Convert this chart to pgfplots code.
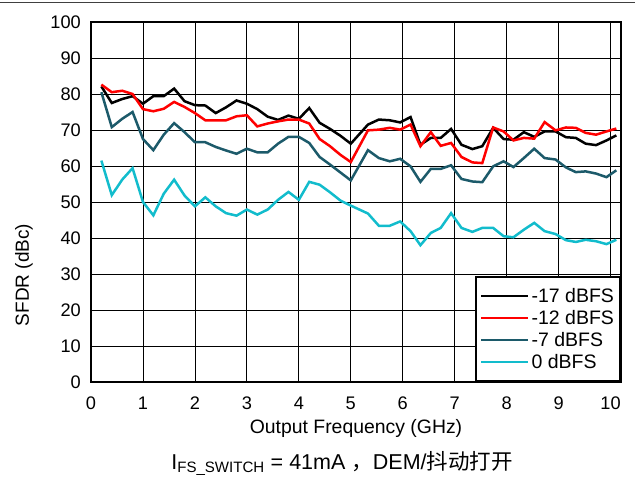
\documentclass[border=0pt]{standalone}
\usepackage{pgfplots}
\usepackage{pgfplotstable}
\pgfplotsset{compat=1.18}
\usepackage{fontspec}
\setmainfont{Liberation Sans}
\newfontfamily\cjk{Noto Sans CJK SC}
\definecolor{cblack}{RGB}{0,0,0}
\definecolor{cred}{RGB}{255,0,0}
\definecolor{cteal}{RGB}{28,90,106}
\definecolor{ccyan}{RGB}{18,188,204}
\pgfplotstableread{
x a b c d
0.2 82.1 82.6 80.5 61.5
0.4 77.5 80.5 70.8 51.9
0.6 78.6 80.9 73.1 56.2
0.8 79.4 80.0 75.0 59.4
1.0 77.3 75.8 67.5 50.0
1.2 79.4 75.2 64.4 46.3
1.4 79.4 75.9 68.7 52.3
1.6 81.5 77.8 71.9 56.2
1.8 78.0 76.4 69.4 51.8
2.0 76.9 74.7 66.6 48.8
2.2 76.8 72.7 66.6 51.3
2.4 74.7 72.7 65.3 48.8
2.6 76.3 72.7 64.3 46.9
2.8 78.2 73.8 63.4 46.2
3.0 77.3 74.1 64.8 47.9
3.2 75.8 71.0 63.8 46.5
3.4 73.7 71.8 63.8 47.9
3.6 72.8 72.4 66.2 50.6
3.8 74.0 72.9 68.1 52.8
4.0 73.1 72.9 68.1 50.6
4.2 76.1 71.8 66.4 55.6
4.4 72.0 67.5 62.5 54.8
4.6 70.3 65.5 60.4 52.7
4.8 68.4 63.1 58.2 50.4
5.0 66.2 61.1 56.0 49.0
5.33 71.5 69.9 64.4 46.8
5.54 72.9 70.1 62.2 43.4
5.75 72.7 70.6 61.3 43.4
5.95 72.1 70.1 62.0 44.6
6.15 73.6 71.5 59.9 41.9
6.34 65.9 65.5 55.6 38.0
6.54 67.8 69.4 59.2 41.4
6.73 67.8 65.6 59.2 42.8
6.93 70.3 66.4 60.2 46.9
7.13 65.9 62.5 56.4 42.8
7.34 64.7 61.0 55.7 41.7
7.53 65.5 60.8 55.5 42.8
7.74 70.6 70.7 59.9 42.8
7.94 67.5 69.6 61.3 40.5
8.13 67.3 67.1 59.7 40.2
8.33 69.4 67.8 62.2 42.3
8.53 68.1 67.6 64.8 44.2
8.73 69.6 72.2 62.2 41.9
8.94 69.6 69.9 61.8 41.1
9.14 68.0 70.7 59.6 39.4
9.33 67.8 70.6 58.3 38.9
9.52 66.2 69.2 58.5 39.5
9.72 65.8 68.7 57.9 39.1
9.92 67.1 69.6 56.9 38.3
10.11 68.5 70.4 58.8 39.5
}\datatable
\begin{document}
\begin{tikzpicture}
\useasboundingbox (0,0) rectangle (635pt,477pt);
\draw[line width=1pt, black!75] (0pt,474pt) -- (635pt,474pt);
\begin{axis}[
  at={(91pt,95pt)}, anchor=south west,
  scale only axis, width=530pt, height=360pt,
  xmin=0, xmax=10.2, ymin=0, ymax=100,
  xtick={0,1,...,10}, ytick={0,10,...,100},
  grid=major, major grid style={black, line width=0.8pt},
  axis line style={line width=2pt},
  major tick length=0pt,
  /pgf/number format/assume math mode=true,
  tick label style={font=\fontsize{18.2}{20}\selectfont, inner sep=0pt},
  xticklabel style={yshift=-15pt},
  yticklabel style={xshift=-10pt},
  legend style={at={(1,0)}, anchor=south east, draw=black, line width=2pt,
    font=\fontsize{19.5}{22}\selectfont, row sep=2.5pt, inner xsep=4pt, inner ysep=9pt},
  legend cell align=left,
  legend image code/.code={\draw[#1, line width=2.5pt] (0pt,0pt) -- (37pt,0pt); \path (-5pt,0pt) -- (42pt,0pt);},
]
\addplot[cblack, line width=2.5pt] table[x=x, y=a] {\datatable};
\addlegendentry{-17 dBFS}
\addplot[cred, line width=2.5pt] table[x=x, y=b] {\datatable};
\addlegendentry{-12 dBFS}
\addplot[cteal, line width=2.5pt] table[x=x, y=c] {\datatable};
\addlegendentry{-7 dBFS}
\addplot[ccyan, line width=2.5pt] table[x=x, y=d] {\datatable};
\addlegendentry{0 dBFS}
\end{axis}
\node[rotate=90, font=\fontsize{19}{20}\selectfont] at (24pt,202pt) {SFDR (dBc)};
\node[anchor=base, font=\fontsize{19.4}{20}\selectfont] at (356pt,44pt) {Output Frequency (GHz)};
\node[anchor=base, font=\fontsize{21.5}{24}\selectfont] at (342pt,7.5pt) {I\textsubscript{FS\_SWITCH} = 41mA {\cjk ，}DEM/{\cjk 抖动打开}};
\end{tikzpicture}
\end{document}
